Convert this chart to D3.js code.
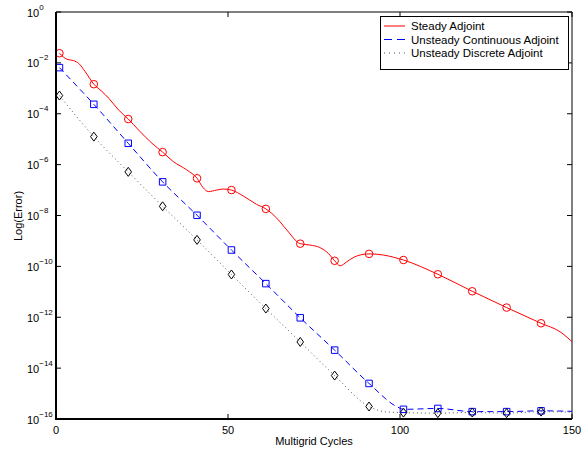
<!DOCTYPE html>
<html>
<head>
<meta charset="utf-8">
<script src="https://cdn.jsdelivr.net/npm/d3@7"></script>
<style>
  html, body { margin: 0; padding: 0; background: #fff; }
  svg { display: block; }
  text { font-family: "Liberation Sans", Arial, Helvetica, sans-serif; fill: #000; }
</style>
</head>
<body>
<svg id="chart" width="585" height="455"></svg>
<script>
// Convergence histories: error vs. multigrid cycle
const steadyCycles = [1, 3.2, 5.1, 6.6, 8.5, 11, 13.4, 15.3, 18.2, 21, 24, 27.9, 31, 34.1, 38, 41,
  42.8, 44.3, 46.7, 48.6, 51, 54.4, 58.3, 61, 64.2, 67.1, 71, 73.8, 76.7, 79.2, 81, 82.6, 84.5,
  86.9, 88.4, 91, 95.1, 98.1, 101, 111, 121, 131, 141, 146.5, 150];
const steadyError = [2.4e-2, 1.38e-2, 1.23e-2, 9.5e-3, 4.5e-3, 1.45e-3, 7.4e-4, 4.1e-4, 1.41e-4, 6.2e-5,
  2.3e-5, 6.9e-6, 3.1e-6, 1.32e-6, 6.2e-7, 2.9e-7, 1.23e-7, 8.7e-8, 1.0e-7, 1.1e-7, 1.0e-7, 5.9e-8,
  2.75e-8, 1.82e-8, 7.8e-9, 2.7e-9, 7.8e-10, 6.9e-10, 5.5e-10, 3.2e-10, 1.66e-10, 1.05e-10, 1.51e-10,
  2.4e-10, 2.8e-10, 3.1e-10, 2.8e-10, 2.3e-10, 1.78e-10, 4.9e-11, 1.05e-11, 2.4e-12, 5.8e-13, 2.7e-13, 1.1e-13];

const contCycles = [1, 11, 21, 31, 41, 51, 61, 71, 81, 91, 99.4, 101, 111, 121, 131, 141, 150];
const contError = [6.5e-3, 2.35e-4, 6.9e-6, 2.1e-7, 1.02e-8, 4.4e-10, 2.1e-11, 9.5e-13, 5.1e-14, 2.5e-15,
  2.9e-16, 2.4e-16, 2.6e-16, 1.95e-16, 1.95e-16, 2.1e-16, 2.0e-16];

const discCycles = [1, 11, 21, 31, 41, 51, 61, 71, 81, 91, 96, 101, 111, 121, 131, 141, 150];
const discError = [5.2e-4, 1.26e-5, 5.2e-7, 2.3e-8, 1.1e-9, 4.8e-11, 2.2e-12, 1.07e-13, 5.1e-15, 3.1e-16,
  1.9e-16, 1.78e-16, 1.7e-16, 1.8e-16, 1.7e-16, 1.95e-16, 1.86e-16];

// cycles at which a symbol is drawn
const markerCycles = [1, 11, 21, 31, 41, 51, 61, 71, 81, 91, 101, 111, 121, 131, 141];

const xTicks = [0, 50, 100, 150];
const yTickExponents = [0, -2, -4, -6, -8, -10, -12, -14, -16];

const seriesNames = ["Steady Adjoint", "Unsteady Continuous Adjoint", "Unsteady Discrete Adjoint"];

const svg = d3.select("#chart");
const plotLeft = 56, plotRight = 572, plotTop = 12, plotBottom = 419;

const x = d3.scaleLinear().domain([0, 150]).range([plotLeft, plotRight]);
const y = d3.scaleLog().domain([1e-16, 1]).range([plotBottom, plotTop]);

const zip = (xs, ys) => xs.map((c, i) => ({ c, e: ys[i] }));
const series = [
  { name: seriesNames[0], pts: zip(steadyCycles, steadyError), dash: null, legendDash: null, sym: "circle", symColor: "#ff0000", lineColor: "#ff0000" },
  { name: seriesNames[1], pts: zip(contCycles, contError), dash: "6,4", legendDash: "8,5", sym: "square", symColor: "#0000ff", lineColor: "#0000ff" },
  { name: seriesNames[2], pts: zip(discCycles, discError), dash: "1,3", legendDash: "1,4", sym: "diamond", symColor: "#000", lineColor: "#555" }
];

// frame: thin top/right, heavier left/bottom
svg.append("line").attr("x1", plotLeft).attr("x2", plotRight).attr("y1", plotTop).attr("y2", plotTop).attr("stroke", "#000").attr("stroke-width", 1);
svg.append("line").attr("x1", plotRight).attr("x2", plotRight).attr("y1", plotTop).attr("y2", plotBottom).attr("stroke", "#000").attr("stroke-width", 1);

// ticks pointing inward on all four sides
const tickLen = 5;
const tickG = svg.append("g").attr("stroke", "#000").attr("stroke-width", 1);
xTicks.forEach(t => {
  tickG.append("line").attr("x1", x(t)).attr("x2", x(t)).attr("y1", plotBottom).attr("y2", plotBottom - tickLen);
  tickG.append("line").attr("x1", x(t)).attr("x2", x(t)).attr("y1", plotTop).attr("y2", plotTop + tickLen);
});
yTickExponents.forEach(p => {
  const v = Math.pow(10, p);
  tickG.append("line").attr("x1", plotLeft).attr("x2", plotLeft + tickLen).attr("y1", y(v)).attr("y2", y(v));
  tickG.append("line").attr("x1", plotRight).attr("x2", plotRight - tickLen).attr("y1", y(v)).attr("y2", y(v));
});

// series lines
const line = d3.line().x(d => x(d.c)).y(d => y(d.e)).curve(d3.curveMonotoneX);
const plot = svg.append("g");
series.forEach(s => {
  plot.append("path").datum(s.pts)
    .attr("d", line)
    .attr("fill", "none")
    .attr("stroke", s.lineColor)
    .attr("stroke-width", 1)
    .attr("stroke-dasharray", s.dash);
});

// symbols
const symbolPath = {
  circle: d3.symbol().type(d3.symbolCircle).size(Math.PI * 3.8 * 3.8),
  square: d3.symbol().type(d3.symbolSquare).size(6.5 * 6.5)
};
series.forEach(s => {
  const pts = s.pts.filter(d => markerCycles.includes(d.c));
  const g = plot.append("g");
  g.selectAll("path").data(pts).join("path")
    .attr("transform", d => `translate(${x(d.c)},${y(d.e)})`)
    .attr("d", d => {
      if (s.sym === "diamond") return "M0,-4.5L3.3,0L0,4.5L-3.3,0Z";
      return symbolPath[s.sym]();
    })
    .attr("fill", "none")
    .attr("stroke", s.symColor)
    .attr("stroke-width", 1);
});

// heavy left and bottom axes
svg.append("line").attr("x1", plotLeft).attr("x2", plotLeft).attr("y1", plotTop).attr("y2", plotBottom + 1).attr("stroke", "#000").attr("stroke-width", 2);
svg.append("line").attr("x1", plotLeft - 1).attr("x2", plotRight).attr("y1", plotBottom).attr("y2", plotBottom).attr("stroke", "#000").attr("stroke-width", 2);

// tick labels
xTicks.forEach(t => {
  svg.append("text").attr("x", x(t)).attr("y", 434).attr("text-anchor", "middle")
    .attr("font-size", 11).text(t);
});
yTickExponents.forEach(p => {
  const yy = y(Math.pow(10, p)) + 4.5;
  const t = svg.append("text").attr("x", 27).attr("y", yy).attr("font-size", 11);
  t.append("tspan").text("10");
  t.append("tspan").attr("font-size", 8).attr("dy", -7)
    .text(p === 0 ? "0" : "\u2212" + Math.abs(p));
});

// axis titles
svg.append("text").attr("x", (plotLeft + plotRight) / 2).attr("y", 445).attr("text-anchor", "middle")
  .attr("font-size", 11).text("Multigrid Cycles");
svg.append("text").attr("transform", "translate(22,216) rotate(-90)").attr("text-anchor", "middle")
  .attr("font-size", 11).text("Log(Error)");

// legend
const lg = svg.append("g");
lg.append("rect").attr("x", 380.5).attr("y", 16.5).attr("width", 188).attr("height", 53)
  .attr("fill", "#fff").attr("stroke", "#000").attr("stroke-width", 1);
series.forEach((s, i) => {
  const yy = 26 + i * 13.5;
  lg.append("line").attr("x1", 384).attr("x2", 405).attr("y1", yy).attr("y2", yy)
    .attr("stroke", s.lineColor).attr("stroke-width", 1).attr("stroke-dasharray", s.legendDash);
  lg.append("text").attr("x", 411).attr("y", yy + 4).attr("font-size", 11.5).text(s.name);
});
</script>
</body>
</html>
